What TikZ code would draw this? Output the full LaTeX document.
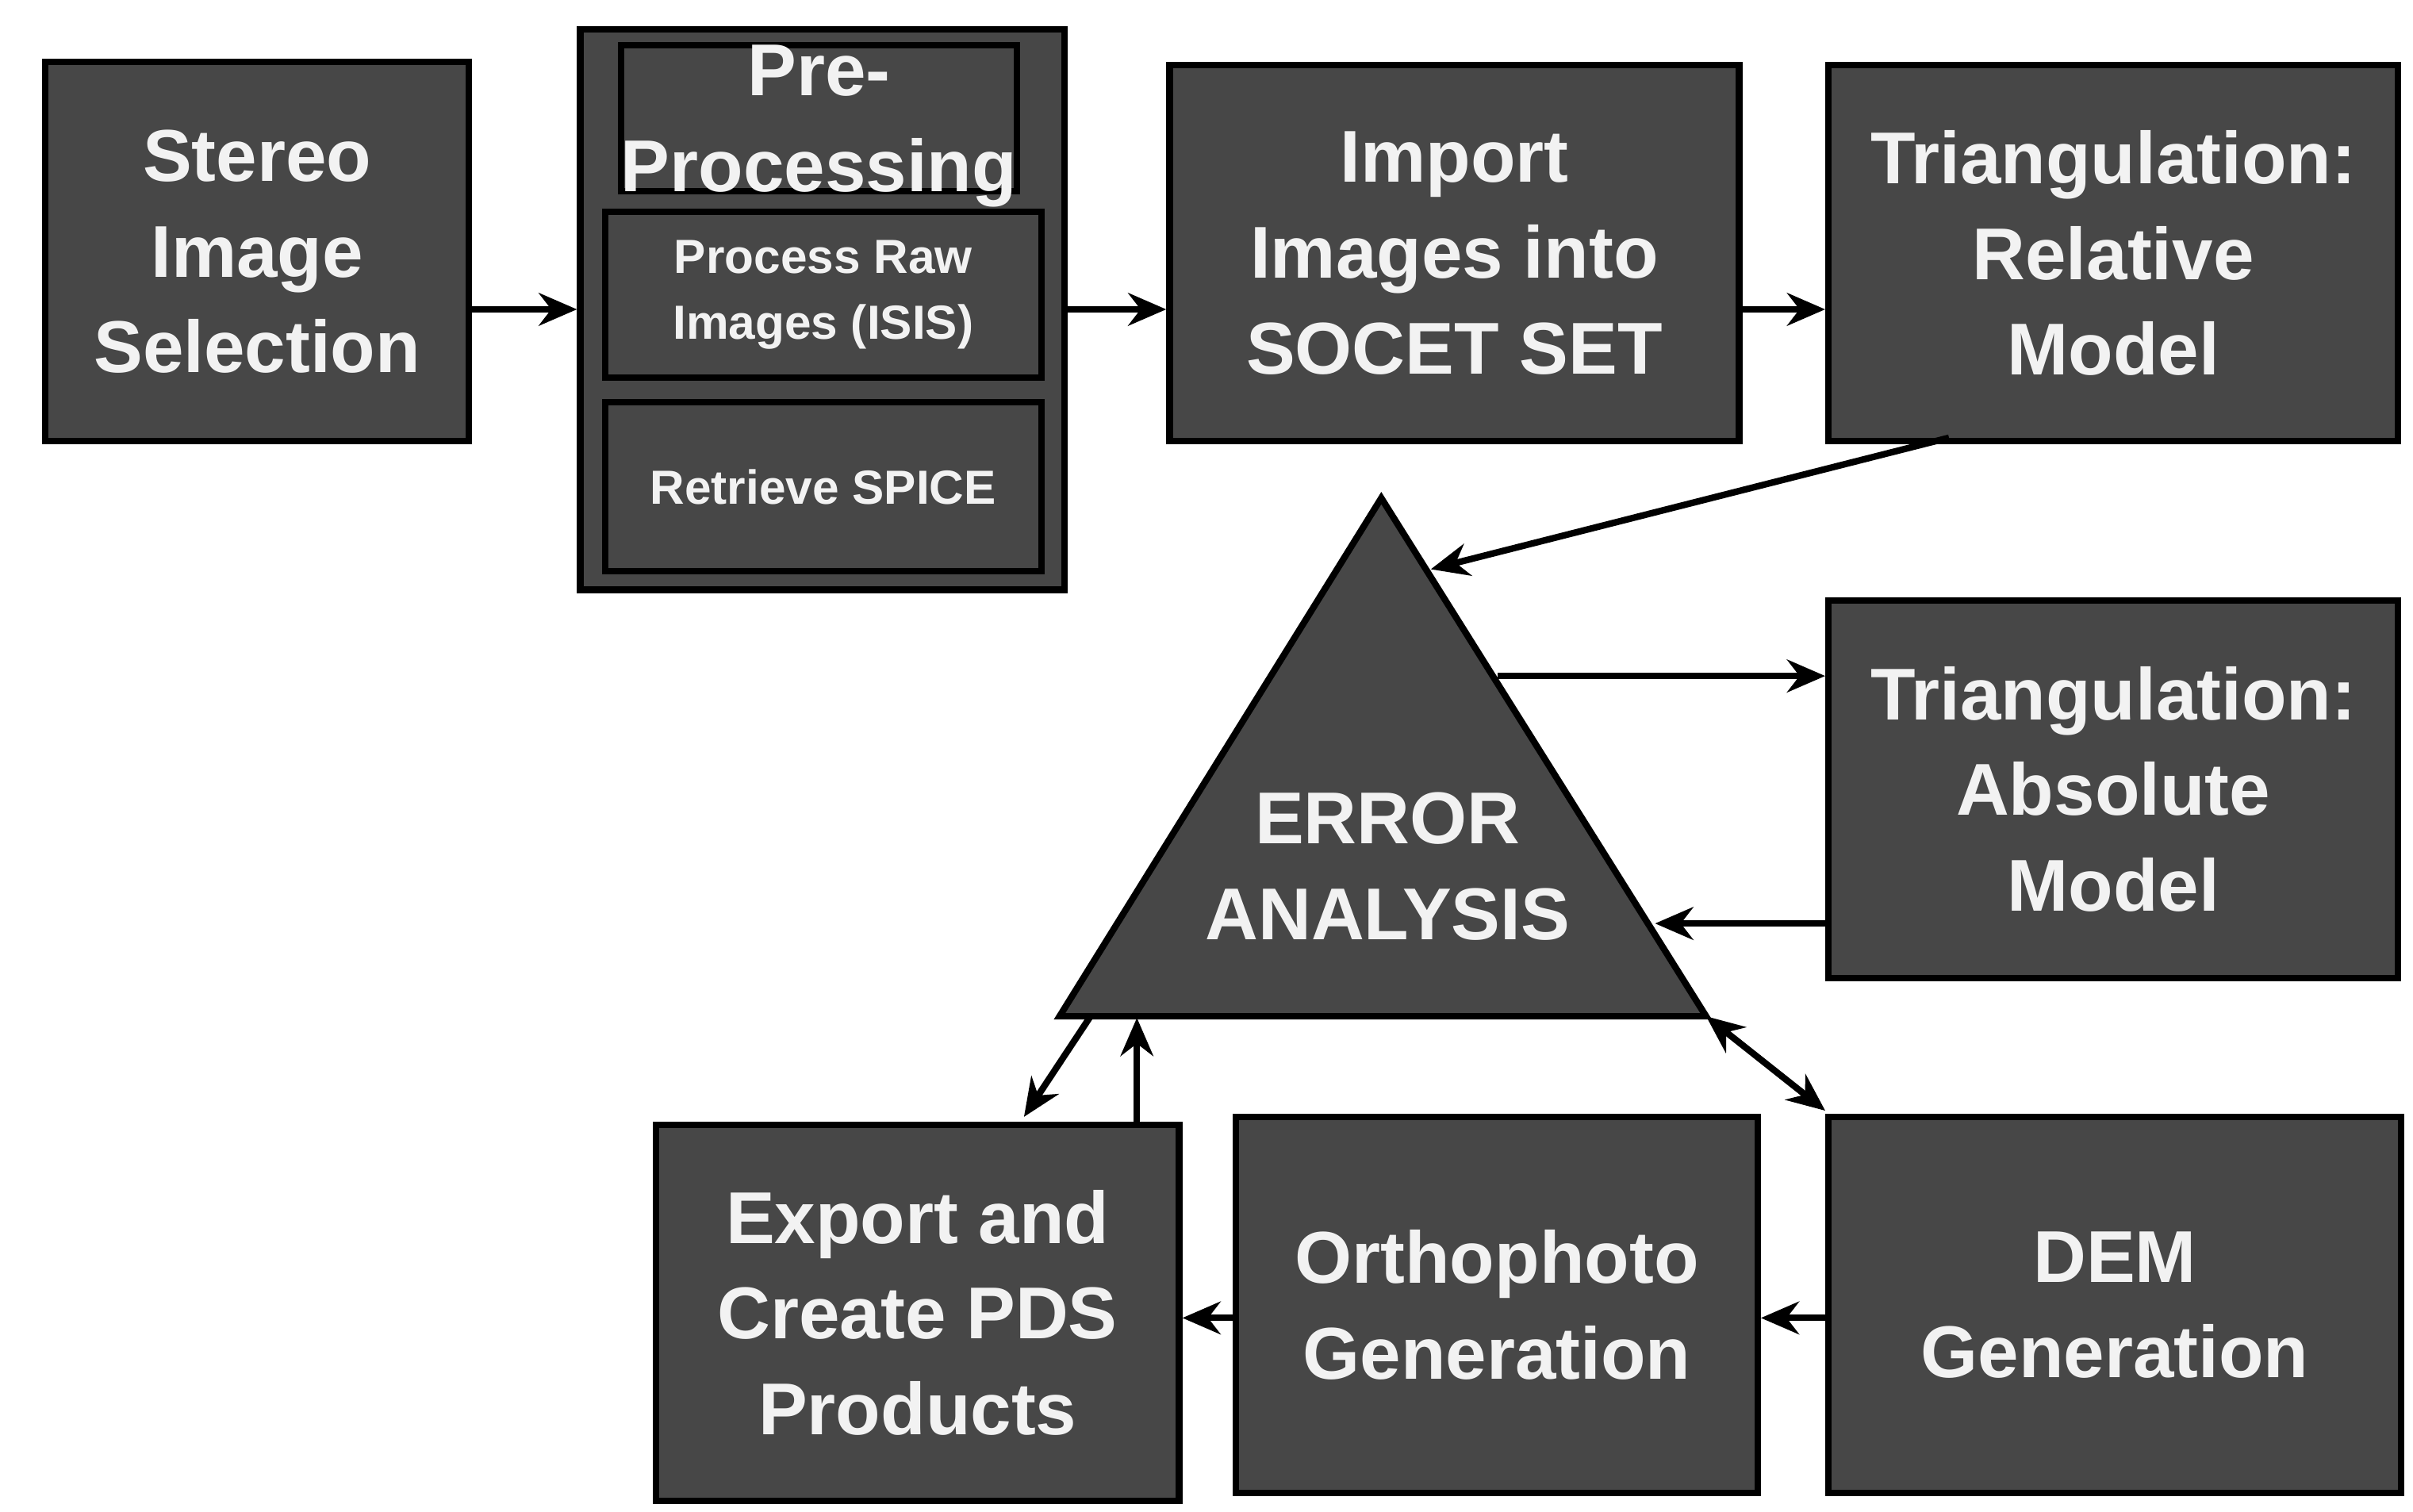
\documentclass[tikz,border=0pt]{standalone}
\usepackage{fontspec}
\setmainfont{Liberation Sans}
\usetikzlibrary{arrows.meta}
\definecolor{boxfill}{HTML}{474747}
\definecolor{txt}{HTML}{F2F2F2}
\begin{document}
\begin{tikzpicture}[x=0.01cm,y=-0.01cm,
  box/.style={draw=black,line width=1.2pt,fill=boxfill,text=txt,font=\bfseries\fontsize{13.5}{17.6}\selectfont,align=center,inner sep=0pt,anchor=north west},
  sbox/.style={box,font=\bfseries\fontsize{8.8}{12}\selectfont},
  arr/.style={-{Stealth[length=7pt,width=6pt]},line width=1.2pt}]
\useasboundingbox (0,0) rectangle (1560,977);
\node[box,minimum width=274\pgflinewidth*0+2.74cm,minimum height=2.45cm] (stereo) at (27,38) {Stereo\\Image\\Selection};
\node[box,minimum width=3.13cm,minimum height=3.62cm] (pre) at (373,17) {};
\node[box,anchor=north,text depth=0pt] (pretitle) at (529.5,27) {Pre-\\Processing};
\node[sbox,minimum width=2.82cm,minimum height=1.07cm] (raw) at (389,135) {Process Raw\\Images (ISIS)};
\node[sbox,minimum width=2.82cm,minimum height=1.09cm] (spice) at (389,258) {Retrieve SPICE};
\node[box,minimum width=3.68cm,minimum height=2.43cm] (import) at (754,40) {Import\\Images into\\SOCET SET};
\node[box,minimum width=3.68cm,minimum height=2.43cm] (rel) at (1180,40) {Triangulation:\\Relative\\Model};
\node[box,minimum width=3.68cm,minimum height=2.44cm] (abs) at (1180,386) {Triangulation:\\Absolute\\Model};
\node[box,minimum width=3.38cm,minimum height=2.43cm] (export) at (422,725) {Export and\\Create PDS\\Products};
\node[box,minimum width=3.37cm,minimum height=2.43cm] (ortho) at (797,720) {Orthophoto\\Generation};
\node[box,minimum width=3.70cm,minimum height=2.43cm] (dem) at (1180,720) {DEM\\Generation};
\coordinate (ta) at (893,322);
\coordinate (tl) at (685,657);
\coordinate (tr) at (1103,657);
\draw[line width=1.2pt,fill=boxfill] (ta) -- (tl) -- (tr) -- cycle;
\node[text=txt,font=\bfseries\fontsize{13.5}{17.6}\selectfont,align=center] (err) at (897,560) {ERROR\\ANALYSIS};
% arrows
\draw[arr] (stereo.east |- 0,200) -- (pre.west |- 0,200);
\draw[arr] (pre.east |- 0,200) -- (import.west |- 0,200);
\draw[arr] (import.east |- 0,200) -- (rel.west |- 0,200);
\coordinate (relout) at (1260,283);
\coordinate (errin) at (925,368);
\draw[arr] (relout) -- (errin);
\coordinate (errout) at (968,437);
\draw[arr] (errout) -- (abs.west |- errout);
\coordinate (errin2) at (1070,597);
\draw[arr] (abs.west |- errin2) -- (errin2);
\coordinate (demin) at (1180,718);
\draw[arr,{Stealth[length=7pt,width=6pt]}-{Stealth[length=7pt,width=6pt]}] (tr) -- (demin);
\draw[arr] (dem.west |- 0,852) -- (ortho.east |- 0,852);
\draw[arr] (ortho.west |- 0,852) -- (export.east |- 0,852);
\coordinate (e1) at (705,657);
\coordinate (x1) at (662,722);
\draw[arr] (e1) -- (x1);
\coordinate (x2) at (735,725);
\coordinate (e2) at (735,658);
\draw[arr] (x2) -- (e2);
\end{tikzpicture}
\end{document}
